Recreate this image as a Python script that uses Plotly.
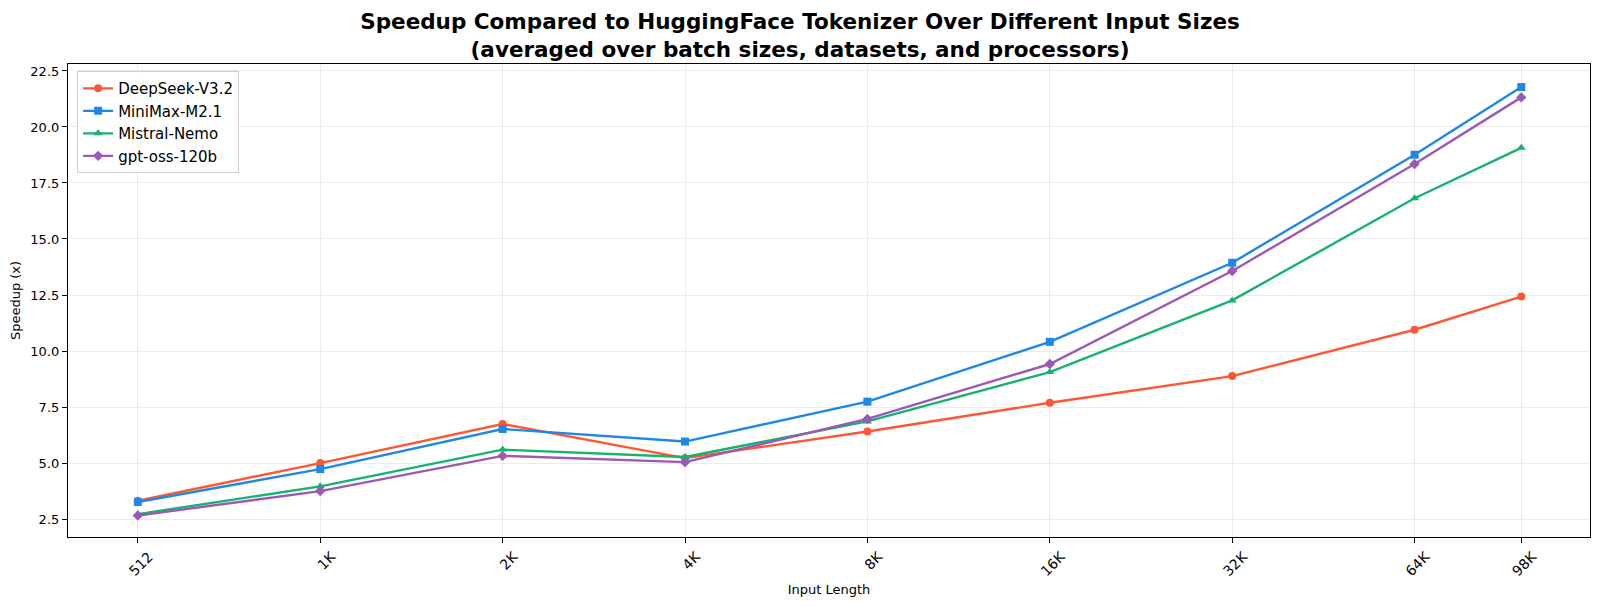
import plotly.graph_objects as go

# input sizes (tokens) and their tick labels
input_sizes = [512, 1024, 2048, 4096, 8192, 16384, 32768, 65536, 98304]
size_labels = ["512", "1K", "2K", "4K", "8K", "16K", "32K", "64K", "98K"]

# average speedup per model
deepseek = [3.32, 5.00, 6.74, 5.22, 6.41, 7.69, 8.88, 10.95, 12.43]
minimax = [3.26, 4.73, 6.52, 5.96, 7.74, 10.41, 13.94, 18.76, 21.78]
mistral = [2.72, 3.96, 5.60, 5.27, 6.86, 9.06, 12.26, 16.82, 19.07]
gpt_oss = [2.66, 3.75, 5.32, 5.04, 6.97, 9.42, 13.57, 18.35, 21.32]

series = [
    ("DeepSeek-V3.2", deepseek, "#FF5733", "circle"),
    ("MiniMax-M2.1", minimax, "#1E88E5", "square"),
    ("Mistral-Nemo", mistral, "#16B26E", "triangle-up"),
    ("gpt-oss-120b", gpt_oss, "#9B59B6", "diamond"),
]

y_ticks = [2.5, 5.0, 7.5, 10.0, 12.5, 15.0, 17.5, 20.0, 22.5]

fig = go.Figure()
for name, vals, color, symbol in series:
    fig.add_trace(go.Scatter(
        x=input_sizes, y=vals, name=name, mode="lines+markers",
        legendgroup=name,
        line=dict(color=color, width=2.4),
        marker=dict(symbol=symbol, size=8, color=color),
    ))

# page body has an 8px margin, so the figure is sized to fit inside the window
font_family = "DejaVu Sans"
fig.update_layout(
    width=1592, height=599,
    plot_bgcolor="white", paper_bgcolor="white",
    margin=dict(l=60, r=10, t=56, b=70),
    font=dict(family=font_family, size=13, color="black"),
    title=dict(
        text="<b>Speedup Compared to HuggingFace Tokenizer Over Different Input Sizes<br>"
             "(averaged over batch sizes, datasets, and processors)</b>",
        x=0.4975, xanchor="center", y=0.965, yanchor="middle",
        font=dict(size=21.5, family=font_family),
    ),
    legend=dict(
        x=0.006, y=0.985, xanchor="left", yanchor="top",
        bgcolor="rgba(255,255,255,0.9)", bordercolor="#d0d0d0", borderwidth=1,
        font=dict(size=15), traceorder="grouped", tracegroupgap=0,
    ),
    showlegend=True,
)

fig.update_xaxes(
    type="log", range=[2.594, 5.106], automargin=False,
    tickvals=input_sizes, ticktext=size_labels, tickangle=-45,
    tickfont=dict(size=14), ticklabelshift=11,
    ticks="outside", ticklen=5, tickcolor="black",
    showline=True, linecolor="black", linewidth=1.2, mirror=True,
    showgrid=True, gridcolor="#ece9f0", gridwidth=1,
    zeroline=False,
    title=dict(text="Input Length", font=dict(size=13), standoff=6),
)
fig.update_yaxes(
    range=[1.70, 22.81], automargin=False,
    tickvals=y_ticks, tickformat=".1f",
    tickfont=dict(size=13),
    ticks="outside", ticklen=5, tickcolor="black",
    showline=True, linecolor="black", linewidth=1.2, mirror=True,
    showgrid=True, gridcolor="#ece9f0", gridwidth=1,
    zeroline=False,
    title=dict(text="Speedup (x)", font=dict(size=13), standoff=14),
)

fig.write_html("out.html")
